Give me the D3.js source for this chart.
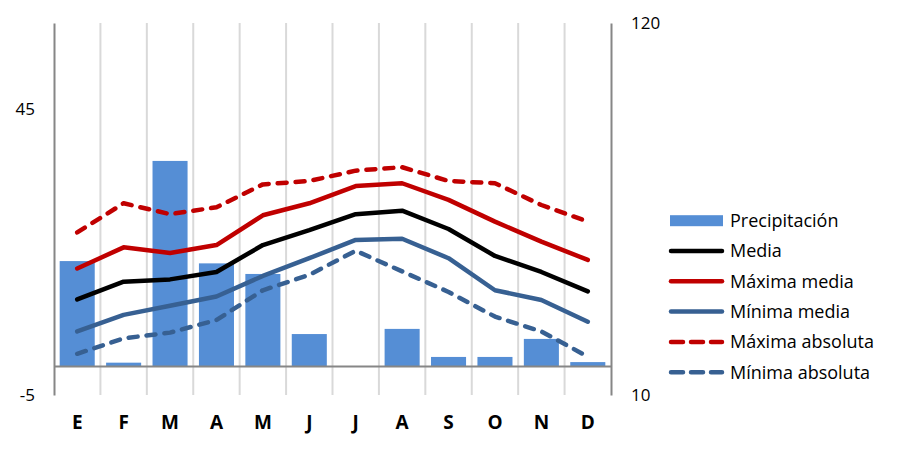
<!DOCTYPE html>
<html><head><meta charset="utf-8">
<script src="https://cdn.jsdelivr.net/npm/d3@7/dist/d3.min.js"></script>
<style>body{margin:0;background:#fff;} svg{display:block;}</style>
</head><body>
<svg id="c" width="911" height="450"></svg>
<script>
const months = ["E","F","M","A","M","J","J","A","S","O","N","D"];
const precipitacion = [36.8, 1.3, 71.8, 36.0, 32.3, 11.3, 0, 13.1, 3.3, 3.3, 9.6, 1.5];
const media = [11.7, 14.8, 15.2, 16.5, 21.2, 23.8, 26.6, 27.2, 24.0, 19.3, 16.5, 13.1];
const maximaMedia = [17.1, 20.8, 19.8, 21.2, 26.4, 28.5, 31.5, 32.0, 29.1, 25.3, 21.8, 18.6];
const minimaMedia = [6.1, 9.0, 10.6, 12.2, 15.8, 18.9, 22.1, 22.3, 18.9, 13.3, 11.6, 7.8];
const maximaAbsoluta = [23.4, 28.5, 26.6, 27.8, 31.8, 32.4, 34.2, 34.8, 32.4, 32.0, 28.2, 25.3];
const minimaAbsoluta = [2.2, 4.9, 5.9, 8.1, 13.3, 16.0, 20.2, 16.6, 13.0, 8.7, 6.1, 1.7];
const leftTicks = [-5, 45];
const leftTickLabels = ["-5", "45"];
const rightTicks = [-10, 120];
const rightTickLabels = ["10", "120"];
const seriesNames = ["Precipitación","Media","Máxima media","Mínima media","Máxima absoluta","Mínima absoluta"];

const svg = d3.select("#c");
const L = 54, R = 611, T = 23, B = 395;
const font = "'Open Sans', 'Liberation Sans', sans-serif";

const x = d3.scaleBand().domain(d3.range(12)).range([L, R]).padding(0);
const yL = d3.scaleLinear().domain([-5, 60]).range([B, T]);
const yR = d3.scaleLinear().domain([-10, 120]).range([B, T]);

// vertical gridlines
svg.append("g").selectAll("line").data(d3.range(1, 12)).join("line")
  .attr("x1", d => x(d)).attr("x2", d => x(d))
  .attr("y1", T).attr("y2", B)
  .attr("stroke", "#d9d9d9").attr("stroke-width", 2);

// bars
const bw = x.bandwidth() * 0.755;
svg.append("g").selectAll("rect").data(precipitacion).join("rect")
  .attr("x", (d, i) => x(i) + (x.bandwidth() - bw) / 2)
  .attr("width", bw)
  .attr("y", d => yR(d))
  .attr("height", d => yR(0) - yR(d))
  .attr("fill", "#558ed5");

// horizontal axis line at 0
svg.append("line").attr("x1", L).attr("x2", R).attr("y1", yL(0)).attr("y2", yL(0))
  .attr("stroke", "#868686").attr("stroke-width", 2);

// left axis
const gl = svg.append("g").attr("transform", `translate(${L},0)`)
  .call(d3.axisLeft(yL).tickValues(leftTicks).tickSize(0).tickPadding(19).tickFormat((d, i) => leftTickLabels[i]));
gl.select(".domain").attr("stroke", "#868686").attr("stroke-width", 2);
gl.selectAll("text").attr("font-family", font).attr("font-size", 17).attr("fill", "#000");

// right axis
const gr = svg.append("g").attr("transform", `translate(${R},0)`)
  .call(d3.axisRight(yR).tickValues(rightTicks).tickSize(0).tickPadding(20).tickFormat((d, i) => rightTickLabels[i]));
gr.select(".domain").attr("stroke", "#868686").attr("stroke-width", 2);
gr.selectAll("text").attr("font-family", font).attr("font-size", 17).attr("fill", "#000");

// bottom axis labels
const gb = svg.append("g").attr("transform", `translate(0,${B})`)
  .call(d3.axisBottom(x).tickSize(0).tickPadding(21).tickFormat(i => months[i]));
gb.select(".domain").remove();
gb.selectAll("text").attr("font-family", font).attr("font-size", 19).attr("font-weight", "bold").attr("fill", "#000");

// lines
const line = d3.line().x((d, i) => x(i) + x.bandwidth() / 2).y(d => yL(d));
const lineSeries = [
  {data: maximaAbsoluta, color: "#c00000", dash: "9,9"},
  {data: minimaAbsoluta, color: "#376092", dash: "9,9"},
  {data: minimaMedia, color: "#376092", dash: null},
  {data: maximaMedia, color: "#c00000", dash: null},
  {data: media, color: "#000000", dash: null}
];
lineSeries.forEach(s => {
  svg.append("path").datum(s.data).attr("d", line)
    .attr("fill", "none").attr("stroke", s.color).attr("stroke-width", 4.5)
    .attr("stroke-linejoin", "round").attr("stroke-linecap", "round")
    .attr("stroke-dasharray", s.dash);
});

// legend
const legendItems = [
  {name: seriesNames[0], type: "bar", color: "#558ed5"},
  {name: seriesNames[1], color: "#000000", dash: null},
  {name: seriesNames[2], color: "#c00000", dash: null},
  {name: seriesNames[3], color: "#376092", dash: null},
  {name: seriesNames[4], color: "#c00000", dash: "12,8"},
  {name: seriesNames[5], color: "#376092", dash: "12,8"}
];
const lg = svg.append("g");
legendItems.forEach((it, i) => {
  const cy = 220.7 + i * 30.3;
  if (it.type === "bar") {
    lg.append("rect").attr("x", 670).attr("y", cy - 5.5).attr("width", 53).attr("height", 11).attr("fill", it.color);
  } else {
    lg.append("line").attr("x1", 671).attr("x2", 722).attr("y1", cy).attr("y2", cy)
      .attr("stroke", it.color).attr("stroke-width", 4.5).attr("stroke-linecap", "round")
      .attr("stroke-dasharray", it.dash);
  }
  lg.append("text").attr("x", 730).attr("y", cy).attr("dy", "0.35em")
    .attr("font-family", font).attr("font-size", 18).attr("fill", "#000").text(it.name);
});
</script>
</body></html>
